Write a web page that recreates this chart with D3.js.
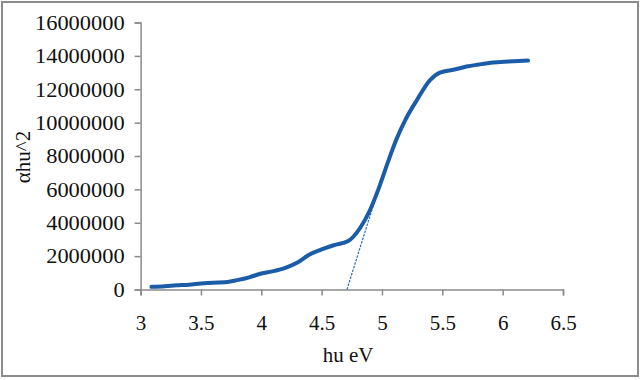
<!DOCTYPE html>
<html>
<head>
<meta charset="utf-8">
<script src="https://cdn.jsdelivr.net/npm/d3@7/dist/d3.min.js"></script>
<style>
  html, body { margin: 0; padding: 0; background: #fff; }
  svg { display: block; }
  text { font-family: "Liberation Serif", "Times New Roman", serif; fill: #111; }
</style>
</head>
<body>
<svg id="chart" width="640" height="380"></svg>
<script>
// Data
const energy = [3.09, 3.2, 3.3, 3.4, 3.5, 3.6, 3.7, 3.8, 3.9, 4.0, 4.1, 4.2, 4.3, 4.4, 4.5, 4.6, 4.72, 4.82, 4.9, 4.97, 5.05, 5.12, 5.2, 5.29, 5.4, 5.48, 5.6, 5.7, 5.8, 5.92, 6.05, 6.21];
const absorb = [160000, 200000, 250000, 290000, 360000, 410000, 430000, 560000, 730000, 960000, 1100000, 1300000, 1620000, 2100000, 2400000, 2650000, 2900000, 3700000, 4750000, 6000000, 7650000, 9000000, 10250000, 11360000, 12560000, 13000000, 13180000, 13360000, 13480000, 13600000, 13660000, 13720000];
const tangentX = [4.71, 5.0];
const tangentY = [0, 6700000];
const xTicks = [3, 3.5, 4, 4.5, 5, 5.5, 6, 6.5];
const yTicks = [0, 2000000, 4000000, 6000000, 8000000, 10000000, 12000000, 14000000, 16000000];
const xTitle = "hu eV";
const yTitle = "\u03b1hu^2";

const svg = d3.select("#chart");
const axisColor = "#8a8a8a";
const lineColor = "#1a5ca8";

// outer border
svg.append("rect")
  .attr("x", 2).attr("y", 2).attr("width", 636).attr("height", 374)
  .attr("fill", "none").attr("stroke", "#8c8c8c").attr("stroke-width", 2);

const x = d3.scaleLinear().domain([3, 6.5]).range([140.6, 563]);
const y = d3.scaleLinear().domain([0, 16000000]).range([289.5, 22.5]);

// y axis
const yAxis = svg.append("g")
  .attr("transform", `translate(${x(3)},0)`)
  .call(d3.axisLeft(y).tickValues(yTicks).tickSize(6).tickPadding(10).tickFormat(d3.format("d")));
yAxis.select(".domain").attr("stroke", axisColor).attr("stroke-width", 1.5);
yAxis.selectAll(".tick line").attr("stroke", axisColor).attr("stroke-width", 1.5);
yAxis.selectAll(".tick text")
  .attr("font-size", 20)
  .attr("font-family", "Liberation Serif")
  .attr("fill", "#111")
  .attr("dy", "0.34em")
  .each(function() {
    const t = d3.select(this);
    const n = t.text().length;
    t.attr("textLength", n * 11.2).attr("lengthAdjust", "spacingAndGlyphs");
  });

// x axis
const xAxis = svg.append("g")
  .attr("transform", `translate(0,${y(0)})`)
  .call(d3.axisBottom(x).tickValues(xTicks).tickSize(6).tickPadding(20).tickFormat(d => d));
xAxis.select(".domain").attr("stroke", axisColor).attr("stroke-width", 1.5);
xAxis.selectAll(".tick line").attr("stroke", axisColor).attr("stroke-width", 1.5);
xAxis.selectAll(".tick text")
  .attr("font-size", 21)
  .attr("font-family", "Liberation Serif")
  .attr("fill", "#111");

// axis titles
svg.append("text")
  .attr("x", 348).attr("y", 362)
  .attr("text-anchor", "middle")
  .attr("font-size", 21)
  .text(xTitle);

svg.append("text")
  .attr("transform", "translate(30,157) rotate(-90)")
  .attr("text-anchor", "middle")
  .attr("font-size", 21)
  .text(yTitle);

// tangent line
svg.append("path")
  .datum(tangentX.map((v, i) => [v, tangentY[i]]))
  .attr("fill", "none")
  .attr("stroke", "#2a6cc0")
  .attr("stroke-width", 1.2)
  .attr("stroke-dasharray", "2.5,1.2")
  .attr("d", d3.line().x(d => x(d[0])).y(d => y(d[1])));

// main curve
const data = energy.map((v, i) => [v, absorb[i]]);
svg.append("path")
  .datum(data)
  .attr("fill", "none")
  .attr("stroke", lineColor)
  .attr("stroke-width", 4)
  .attr("stroke-linecap", "round")
  .attr("stroke-linejoin", "round")
  .attr("d", d3.line().curve(d3.curveMonotoneX).x(d => x(d[0])).y(d => y(d[1])));
</script>
</body>
</html>
